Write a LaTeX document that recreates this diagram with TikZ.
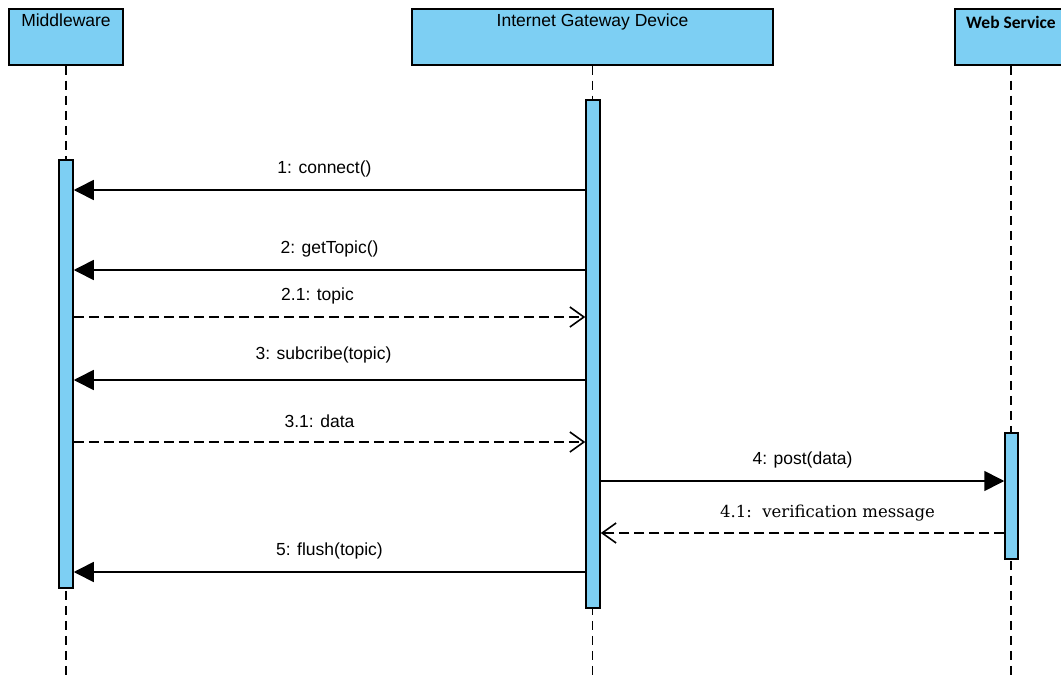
\documentclass[tikz,border=0pt]{standalone}
\usepackage{fontspec}
\setmainfont{Liberation Sans}
\newfontfamily\wsfont{Carlito}
\newfontfamily\serifmsg{DejaVu Serif}
\usetikzlibrary{arrows.meta}
\definecolor{lifeblue}{RGB}{125,207,243}
\begin{document}
\begin{tikzpicture}[x=1pt,y=-1pt,
  head/.style={draw=black, fill=lifeblue, line width=1.5pt, minimum height=56pt, inner sep=0pt},
  hdtext/.style={font=\fontsize{17.5}{20}\selectfont, anchor=north, yshift=-2pt},
  bar/.style={draw=black, fill=lifeblue, line width=1.5pt, minimum width=14pt, inner sep=0pt},
  life/.style={line width=1.3pt, dash pattern=on 9pt off 6pt},
  call/.style={line width=1.6pt, -{Triangle[length=20pt,width=20pt]}},
  reply/.style={line width=1.6pt, dash pattern=on 10pt off 5pt, -{Straight Barb[length=14pt,width=20pt,line width=1.6pt]}},
  lbl/.style={font=\fontsize{17.5}{20}\selectfont, midway, yshift=21pt}
]
\clip (0,0) rectangle (1061,677);
\fill[white] (0,0) rectangle (1061,677);

% heads
\node[head, minimum width=114pt, label={[hdtext]north:Middleware}] (mw) at (66,37) {};
\node[head, minimum width=361pt, label={[hdtext]north:Internet Gateway Device}] (gw) at (592.5,37) {};
\node[head, minimum width=112pt, label={[hdtext, font=\wsfont\bfseries\fontsize{17.5}{20}\selectfont, yshift=-2pt]north:Web Service}] (ws) at (1011,37) {};

\coordinate (bot) at (0,677);
\draw[life] (mw.south) -- (mw.south |- bot);
\draw[life] (gw.south) -- (gw.south |- bot);
\draw[life] (ws.south) -- (ws.south |- bot);

% activation bars
\node[bar, minimum height=428pt] (mwbar) at (66,374) {};
\node[bar, minimum height=508pt] (gbar) at (593,354) {};
\node[bar, minimum width=13pt, minimum height=126pt] (wbar) at (1011.5,496) {};

% message levels
\coordinate (y1) at (0,190);
\coordinate (y2) at (0,270);
\coordinate (y21) at (0,317);
\coordinate (y3) at (0,380);
\coordinate (y31) at (0,442);
\coordinate (y4) at (0,481);
\coordinate (y41) at (0,533);
\coordinate (y5) at (0,572);

\draw[call] (gbar.west |- y1) -- node[lbl, xshift=-5pt] {1: connect()} (mwbar.east |- y1);
\draw[call] (gbar.west |- y2) -- node[lbl] {2: getTopic()} (mwbar.east |- y2);
\draw[reply] (mwbar.east |- y21) -- node[lbl, xshift=-12pt] {2.1: topic} (gbar.west |- y21);
\draw[call] (gbar.west |- y3) -- node[lbl, xshift=-6pt, yshift=4pt] {3: subcribe(topic)} (mwbar.east |- y3);
\draw[reply] (mwbar.east |- y31) -- node[lbl, xshift=-10pt] {3.1: data} (gbar.west |- y31);
\draw[call] (gbar.east |- y4) -- node[lbl] {4: post(data)} (wbar.west |- y4);
\draw[reply] (wbar.west |- y41) -- node[lbl, font=\serifmsg\fontsize{16.5}{19}\selectfont, xshift=25pt, yshift=-1pt] {4.1:\ \ verification message} (gbar.east |- y41);
\draw[call] (gbar.west |- y5) -- node[lbl] {5: flush(topic)} (mwbar.east |- y5);
\end{tikzpicture}
\end{document}
